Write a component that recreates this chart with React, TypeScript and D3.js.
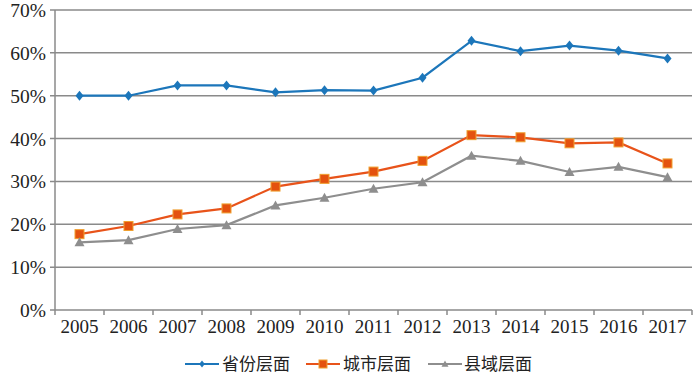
import React from "react";
import * as d3 from "d3";

const years = ["2005","2006","2007","2008","2009","2010","2011","2012","2013","2014","2015","2016","2017"];
const province = [50.0, 50.0, 52.4, 52.4, 50.8, 51.3, 51.2, 54.2, 62.8, 60.4, 61.7, 60.5, 58.7];
const city = [17.7, 19.6, 22.3, 23.7, 28.8, 30.6, 32.3, 34.8, 40.8, 40.3, 38.9, 39.1, 34.2];
const county = [15.8, 16.3, 18.9, 19.8, 24.4, 26.2, 28.3, 29.8, 36.0, 34.8, 32.2, 33.4, 31.0];
const yTicks = [0, 10, 20, 30, 40, 50, 60, 70];
const seriesNames = ["省份层面", "城市层面", "县域层面"];

const W = 700, H = 380;
const left = 55, right = 692, top = 10, bottom = 310;
const SERIF = "'Liberation Serif', 'Times New Roman', 'DejaVu Serif', serif";

export default function App() {
  const x = d3.scaleBand<string>().domain(years).range([left, right]);
  const y = d3.scaleLinear().domain([0, 70]).range([bottom, top]);
  const cx = (i: number) => (x(years[i]) as number) + x.bandwidth() / 2;
  const line = d3.line<number>().x((_, i) => cx(i)).y((d) => y(d));
  const series = [
    { name: seriesNames[0], data: province, color: "#1c76ba", marker: "diamond" },
    { name: seriesNames[1], data: city, color: "#e8531a", marker: "square" },
    { name: seriesNames[2], data: county, color: "#8e8e8e", marker: "triangle" },
  ];
  const marker = (type: string, px: number, py: number, color: string, s: number, key?: any) => {
    if (type === "diamond") {
      return <path key={key} d={`M${px},${py - s}L${px + s * 0.8},${py}L${px},${py + s}L${px - s * 0.8},${py}Z`} fill={color} />;
    }
    if (type === "square") {
      return <rect key={key} x={px - s} y={py - s} width={2 * s} height={2 * s} fill="#e4520f" stroke="#f0a030" strokeWidth={1} />;
    }
    return <path key={key} d={`M${px},${py - s}L${px + s},${py + s * 0.8}L${px - s},${py + s * 0.8}Z`} fill={color} />;
  };
  const legendItems = [
    { lx: 185, tx: 222 },
    { lx: 306, tx: 343 },
    { lx: 428, tx: 464 },
  ];
  return (
    <svg width={W} height={H} style={{ display: "block", position: "absolute", left: 0, top: 0 }}>
      <rect width={W} height={H} fill="#fff" />
      {yTicks.map((t) => (
        <g key={t}>
          <line x1={left - 5} x2={right} y1={y(t)} y2={y(t)} stroke="#8a8a8a" strokeWidth={1.5} />
          <text x={left - 9} y={y(t)} dy="0.36em" textAnchor="end" style={{ fontFamily: SERIF }} fontSize={19.5} fill="#222">{t}%</text>
        </g>
      ))}
      <line x1={left} x2={left} y1={top} y2={bottom + 5} stroke="#8a8a8a" strokeWidth={1.5} />
      {years.map((yr) => (
        <line key={"tk" + yr} x1={(x(yr) as number) + x.bandwidth()} x2={(x(yr) as number) + x.bandwidth()} y1={bottom} y2={bottom + 5} stroke="#8a8a8a" strokeWidth={1.5} />
      ))}
      {years.map((yr, i) => (
        <text key={"xl" + yr} x={cx(i)} y={bottom + 23} textAnchor="middle" style={{ fontFamily: SERIF }} fontSize={19} fill="#222">{yr}</text>
      ))}
      {series.map((s) => (
        <g key={s.name}>
          <path d={line(s.data) as string} fill="none" stroke={s.color} strokeWidth={2.2} />
          {s.data.map((v, i) => marker(s.marker, cx(i), y(v), s.color, s.marker === "square" ? 4.5 : 5, i))}
        </g>
      ))}
      {series.map((s, k) => (
        <g key={"lg" + s.name}>
          <line x1={legendItems[k].lx} x2={legendItems[k].lx + 34} y1={364} y2={364} stroke={s.color} strokeWidth={2.2} />
          {marker(s.marker, legendItems[k].lx + 17, 364, s.color, s.marker === "square" ? 4 : 3.5)}
          <text x={legendItems[k].tx} y={364} dy="0.36em" style={{ fontFamily: "'Noto Sans CJK SC', sans-serif" }} fontSize={17} fill="#222">{s.name}</text>
        </g>
      ))}
    </svg>
  );
}
